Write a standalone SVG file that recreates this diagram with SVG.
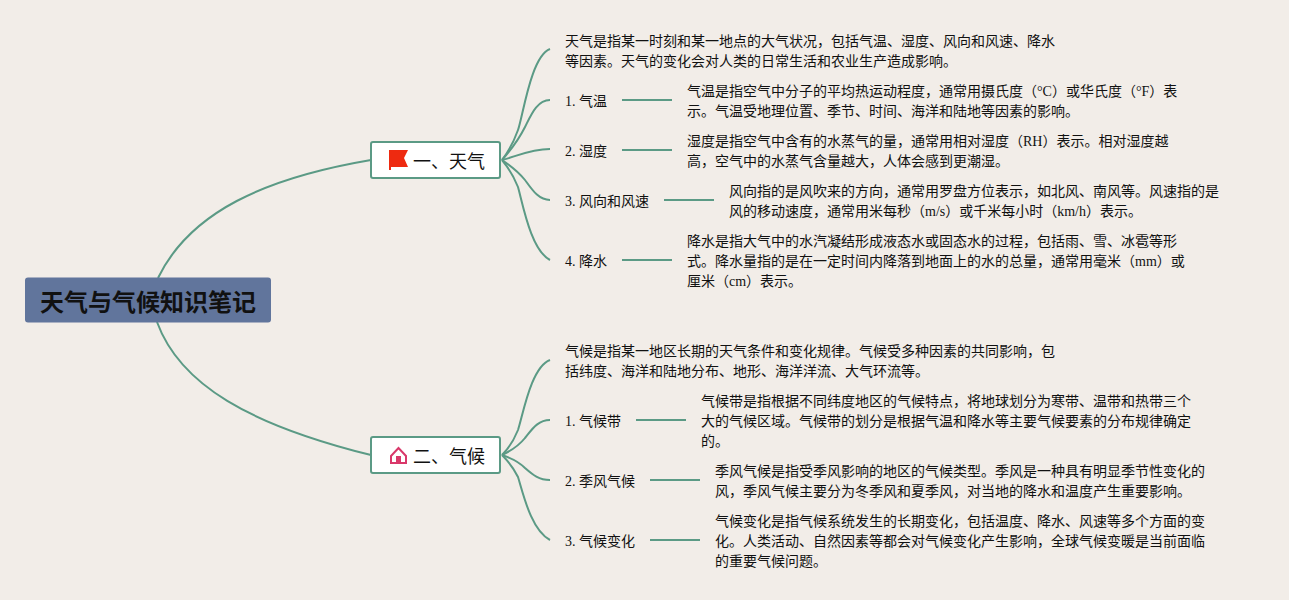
<svg xmlns="http://www.w3.org/2000/svg" width="1289" height="600" viewBox="0 0 1289 600">
<style>
text{font-family:"Liberation Serif","Noto Sans CJK SC",serif;font-size:14px;fill:#111}
.c{fill:none;stroke:#5b9a85;stroke-width:2}
.b{fill:#fff;stroke:#5b9a85;stroke-width:2}
.s{font-size:18px}
</style>
<rect width="1289" height="600" fill="#f2ede8"/>
<g id="connectors">
<path class="c" d="M158 278C190 212 265 178 371 160"/>
<path class="c" d="M157 322C180 385 250 425 371 455"/>
<path class="c" d="M502 160Q512 147 518 130C523 116 531 56 550 49"/>
<path class="c" d="M502 160Q517 143 525 127C531 115 537 100 550 100"/>
<path class="c" d="M502 160C515 157 530 149 550 149"/>
<path class="c" d="M502 160Q517 170 525 180C533 191 539 200 550 200"/>
<path class="c" d="M502 160Q512 172 518 187C523 205 531 250 550 260"/>
<path class="c" d="M502 455Q512 445 518 430C523 415 531 367 550 360"/>
<path class="c" d="M502 455Q517 448 525 438C531 431 537 420 550 420"/>
<path class="c" d="M502 455Q517 460 525 468C533 475 539 480 550 480"/>
<path class="c" d="M502 455Q512 465 518 477C523 493 531 530 550 540"/>
<path class="c" d="M622 100H672M622 150H672M664 200H714M622 260H672M636 420H686M650 480H700M650 540H700"/>
</g>
<g id="root"><rect x="25" y="277.500" width="246" height="45" rx="3" fill="#61759c"/><text x="40" y="311" style="font-size:24px;font-weight:700">天气与气候知识笔记</text></g>
<g id="n1"><rect class="b" x="371" y="142" width="129" height="36" rx="2"/><path d="M389 150H408L404 158L408 167H391V170H389Z" fill="#ee2a10"/><text class="s" x="413" y="168">一、天气</text></g>
<g id="n2"><rect class="b" x="371" y="437" width="129" height="36" rx="2"/><path d="M391 456L398.500 448L406 456V463H391Z" fill="none" stroke="#d9386a" stroke-width="2"/><rect x="396" y="456" width="5" height="7" fill="#d9386a"/><text class="s" x="413" y="463">二、气候</text></g>
<g id="t1"><text x="565" y="46">天气是指某一时刻和某一地点的大气状况，包括气温、湿度、风向和风速、降水</text><text x="565" y="66">等因素。天气的变化会对人类的日常生活和农业生产造成影响。</text></g>
<g id="t11"><text x="565" y="106">1. 气温</text></g>
<g id="d11"><text x="687" y="96">气温是指空气中分子的平均热运动程度，通常用摄氏度（°C）或华氏度（°F）表</text><text x="687" y="116">示。气温受地理位置、季节、时间、海洋和陆地等因素的影响。</text></g>
<g id="t12"><text x="565" y="156">2. 湿度</text></g>
<g id="d12"><text x="687" y="146">湿度是指空气中含有的水蒸气的量，通常用相对湿度（RH）表示。相对湿度越</text><text x="687" y="166">高，空气中的水蒸气含量越大，人体会感到更潮湿。</text></g>
<g id="t13"><text x="565" y="206">3. 风向和风速</text></g>
<g id="d13"><text x="729" y="196">风向指的是风吹来的方向，通常用罗盘方位表示，如北风、南风等。风速指的是</text><text x="729" y="216">风的移动速度，通常用米每秒（m/s）或千米每小时（km/h）表示。</text></g>
<g id="t14"><text x="565" y="266">4. 降水</text></g>
<g id="d14"><text x="687" y="246">降水是指大气中的水汽凝结形成液态水或固态水的过程，包括雨、雪、冰雹等形</text><text x="687" y="266">式。降水量指的是在一定时间内降落到地面上的水的总量，通常用毫米（mm）或</text><text x="687" y="286">厘米（cm）表示。</text></g>
<g id="t2"><text x="565" y="356">气候是指某一地区长期的天气条件和变化规律。气候受多种因素的共同影响，包</text><text x="565" y="376">括纬度、海洋和陆地分布、地形、海洋洋流、大气环流等。</text></g>
<g id="t21"><text x="565" y="426">1. 气候带</text></g>
<g id="d21"><text x="701" y="406">气候带是指根据不同纬度地区的气候特点，将地球划分为寒带、温带和热带三个</text><text x="701" y="426">大的气候区域。气候带的划分是根据气温和降水等主要气候要素的分布规律确定</text><text x="701" y="446">的。</text></g>
<g id="t22"><text x="565" y="486">2. 季风气候</text></g>
<g id="d22"><text x="715" y="476">季风气候是指受季风影响的地区的气候类型。季风是一种具有明显季节性变化的</text><text x="715" y="496">风，季风气候主要分为冬季风和夏季风，对当地的降水和温度产生重要影响。</text></g>
<g id="t23"><text x="565" y="546">3. 气候变化</text></g>
<g id="d23"><text x="715" y="526">气候变化是指气候系统发生的长期变化，包括温度、降水、风速等多个方面的变</text><text x="715" y="546">化。人类活动、自然因素等都会对气候变化产生影响，全球气候变暖是当前面临</text><text x="715" y="566">的重要气候问题。</text></g>
</svg>
